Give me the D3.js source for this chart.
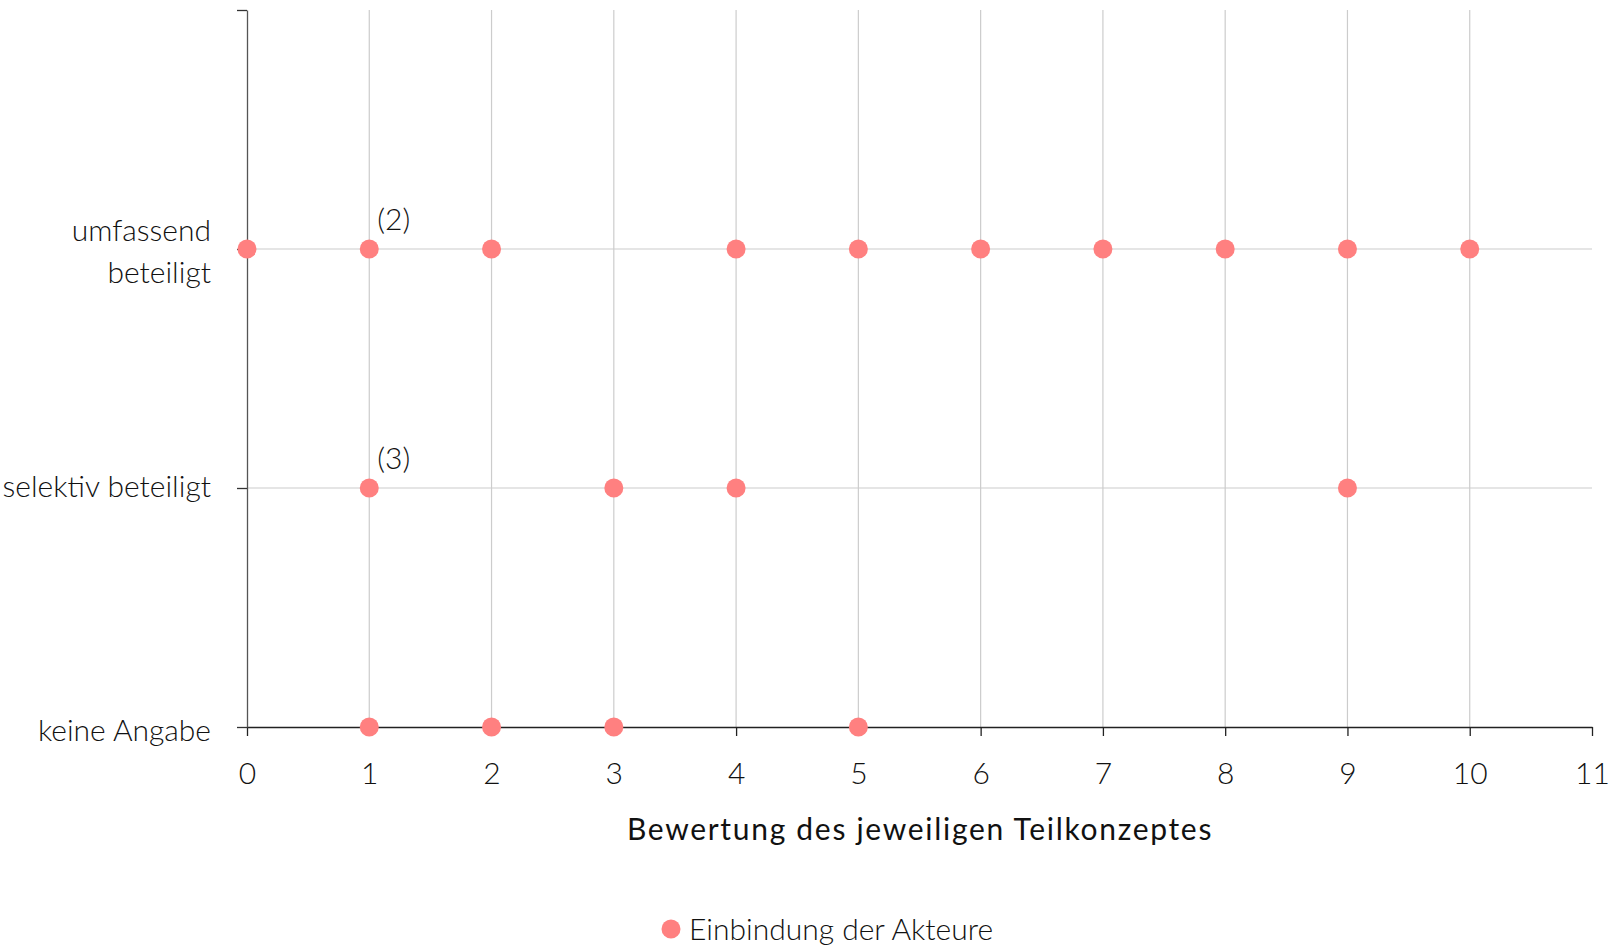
<!DOCTYPE html>
<html>
<head>
<meta charset="utf-8">
<script src="https://cdn.jsdelivr.net/npm/d3@7"></script>
<style>
  html, body { margin: 0; padding: 0; background: #fff; }
  svg text { font-family: "Lato", "Open Sans", sans-serif; font-weight: 300; fill: #111; }
</style>
</head>
<body>
<svg id="chart" width="1623" height="946"></svg>
<script>
// ---- data ----
const categoryLabels = [["keine Angabe"], ["selektiv beteiligt"], ["umfassend", "beteiligt"]];
const categoryValues = [0, 1, 2];
const scoresUmfassend = [0, 1, 2, 4, 5, 6, 7, 8, 9, 10];
const scoresSelektiv = [1, 3, 4, 9];
const scoresKeine = [1, 2, 3, 5];
const xTickValues = [0, 1, 2, 3, 4, 5, 6, 7, 8, 9, 10, 11];
const annotations = [{ x: 1, y: 2, text: "(2)" }, { x: 1, y: 1, text: "(3)" }];
const xTitle = "Bewertung des jeweiligen Teilkonzeptes";
const legendLabel = "Einbindung der Akteure";

const points = []
  .concat(scoresUmfassend.map(x => ({ x, y: 2 })))
  .concat(scoresSelektiv.map(x => ({ x, y: 1 })))
  .concat(scoresKeine.map(x => ({ x, y: 0 })));

// ---- layout ----
const svg = d3.select("#chart");
const mLeft = 247, mRight = 1592, mTop = 10, mBottom = 727;
const x = d3.scaleLinear().domain([0, 11]).range([mLeft, mRight]);
const y = d3.scaleLinear().domain([0, 3]).range([mBottom, mTop]);
const dotColor = "#ff8080";

// gridlines
svg.append("g").selectAll("line")
  .data(xTickValues.filter(v => v > 0 && v < 11))
  .join("line")
  .attr("x1", d => x(d)).attr("x2", d => x(d))
  .attr("y1", y(3)).attr("y2", y(0))
  .attr("stroke", "#cccccc").attr("stroke-width", 1.2);

svg.append("g").selectAll("line")
  .data([1, 2])
  .join("line")
  .attr("x1", x(0)).attr("x2", x(11))
  .attr("y1", d => y(d)).attr("y2", d => y(d))
  .attr("stroke", "#cccccc").attr("stroke-width", 1.2);

// x axis
const xAxis = svg.append("g")
  .attr("transform", `translate(0,${y(0)})`)
  .call(d3.axisBottom(x).tickValues(xTickValues).tickSize(9).tickSizeOuter(0).tickFormat(d3.format("d")));
xAxis.select(".domain").attr("stroke", "#222").attr("stroke-width", 1.3);
xAxis.selectAll(".tick line").attr("stroke", "#222").attr("stroke-width", 1.3);
xAxis.selectAll(".tick text")
  .attr("y", 57).attr("dy", null)
  .attr("fill", "#111")
  .style("font-size", "30px");
xAxis.attr("font-family", null).attr("font-size", null);

// y axis
const yAxis = svg.append("g")
  .attr("transform", `translate(${x(0)},0)`)
  .call(d3.axisLeft(y).tickValues([0, 1, 2, 3]).tickSize(10).tickSizeOuter(0).tickFormat(""));
yAxis.select(".domain").attr("stroke", "#555").attr("stroke-width", 1.3);
yAxis.selectAll(".tick line").attr("stroke", "#333").attr("stroke-width", 1.3);

// y labels
const yLab = svg.append("g");
categoryValues.forEach((v, i) => {
  const lines = categoryLabels[i];
  const lineH = 42;
  const baseOff = lines.length === 1 ? (v === 0 ? 14 : 9) : -8;
  const t = yLab.append("text")
    .attr("text-anchor", "end")
    .style("font-size", "30px");
  lines.forEach((ln, j) => {
    t.append("tspan").attr("x", 211).attr("y", y(v) + baseOff + j * lineH).text(ln);
  });
});

// points
svg.append("g").selectAll("circle")
  .data(points)
  .join("circle")
  .attr("cx", d => x(d.x)).attr("cy", d => y(d.y))
  .attr("r", 9.5)
  .attr("fill", dotColor);

// annotations
svg.append("g").selectAll("text")
  .data(annotations)
  .join("text")
  .attr("x", d => x(d.x) + 8)
  .attr("y", d => y(d.y) - 19)
  .style("font-size", "30px")
  .text(d => d.text);

// x title
svg.append("text")
  .attr("x", (627 + 1213) / 2)
  .attr("y", 840)
  .attr("text-anchor", "middle")
  .style("font-size", "30px")
  .style("font-weight", 400)
  .style("letter-spacing", "1.7px")
  .text(xTitle);

// legend
const lg = svg.append("g");
lg.append("circle").attr("cx", 671).attr("cy", 929).attr("r", 9.5).attr("fill", dotColor);
lg.append("text").attr("x", 689).attr("y", 940).style("font-size", "30px").text(legendLabel);
</script>
</body>
</html>
